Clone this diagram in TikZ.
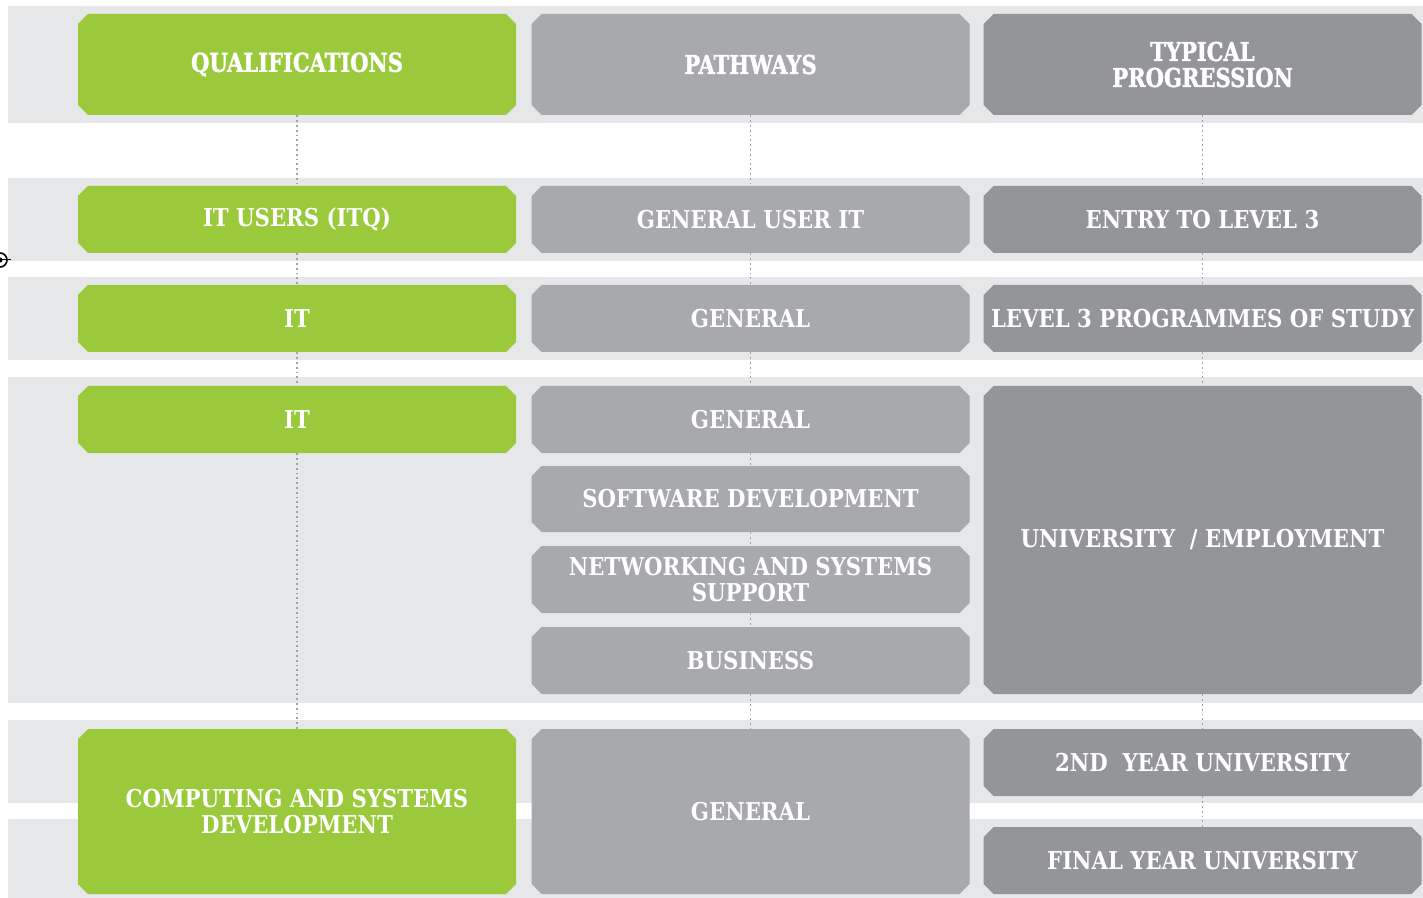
\documentclass[tikz,border=0pt]{standalone}
\usepackage{fontspec}
\usepackage{tikz}
\usetikzlibrary{shapes.misc}
\setmainfont[FakeStretch=0.96]{DejaVu Serif Condensed}
\newfontfamily\headfont[FakeBold=1.5,FakeStretch=0.9]{DejaVu Serif Condensed}
\definecolor{qgreen}{HTML}{9ACA3C}
\definecolor{pgrey}{HTML}{A7A9AC}
\definecolor{tgrey}{HTML}{939598}
\definecolor{bandgrey}{HTML}{E6E7E8}
\definecolor{dotgrey}{HTML}{A0A2A5}

\begin{document}
\begin{tikzpicture}[x=0.5pt,y=-0.5pt,
    box/.style={chamfered rectangle,chamfered rectangle xsep=2.5pt,chamfered rectangle ysep=2.5pt,
        inner sep=0pt,minimum width=219pt,minimum height=33.5pt,text=white,align=center,
        font=\fontsize{12.3}{13}\selectfont\bfseries},
    qual/.style={box,fill=qgreen},
    path/.style={box,fill=pgrey},
    prog/.style={box,fill=tgrey},
    head/.style={font=\fontsize{13}{13}\selectfont\headfont\bfseries,minimum height=50.5pt},
    band/.style={fill=bandgrey},
    dotline/.style={draw=dotgrey,line width=0.9pt,dash pattern=on 0.9pt off 1.5pt}]
            \useasboundingbox (0,0) rectangle (1423,898);
            \fill[band](8,6) rectangle (1423,123);
            \fill[band](8,178) rectangle (1423,261);
            \fill[band](8,277) rectangle (1423,360);
            \fill[band](8,377) rectangle (1423,703);
            \fill[band](8,819) rectangle (1423,898);
            \fill[band](8,720) rectangle (1423,803);
            \draw[black,line width=0.8pt](0,260) circle (3.5pt);
            \fill[black](0,260) circle (1.3pt);
            \draw[black,line width=0.5pt](-12,260) -- (11,260);

            \node[qual,head] (q0) at (297,64.5){QUALIFICATIONS};
            \node[path,head] (p0) at (750.5,64.5){PATHWAYS};
            \node[prog,head] (t0) at (1202.5,64.5){TYPICAL\\PROGRESSION};

            \node[qual] (q1) at (297,219.5){IT USERS (ITQ)};
            \node[path] (p1) at (750.5,219.5){GENERAL USER IT};
            \node[prog] (t1) at (1202.5,219.5){ENTRY TO LEVEL 3};

            \node[qual] (q2) at (297,318.5){IT};
            \node[path] (p2) at (750.5,318.5){GENERAL};
            \node[prog] (t2) at (1202.5,318.5){LEVEL 3 PROGRAMMES OF STUDY};

            \node[qual] (q3) at (297,419.5){IT};
            \node[path] (p3) at (750.5,419.5){GENERAL};
            \node[path,minimum height=33pt] (p4) at (750.5,499){SOFTWARE DEVELOPMENT};
            \node[path] (p5) at (750.5,579.5){NETWORKING AND SYSTEMS\\SUPPORT};
            \node[path] (p6) at (750.5,660.5){BUSINESS};
            \node[prog,minimum height=154pt] (t3) at (1202.5,540){UNIVERSITY\ \ / EMPLOYMENT};

            \node[qual,minimum height=82.5pt] (q4) at (297,811.5){COMPUTING AND SYSTEMS\\DEVELOPMENT};
            \node[path,minimum height=82.5pt] (p7) at (750.5,811.5){GENERAL};
            \node[prog] (t4) at (1202.5,762.5){2ND\ \ YEAR UNIVERSITY};
            \node[prog] (t5) at (1202.5,860.5){FINAL YEAR UNIVERSITY};

            \foreach \a/\b in {q0/q1,q1/q2,q2/q3,q3/q4,p0/p1,p1/p2,p2/p3,p3/p4,p4/p5,p5/p6,p6/p7,t0/t1,t1/t2,t2/t3,t3/t4,t4/t5}
                \draw[dotline](\a.south) -- (\b.north);
        \end{tikzpicture}
\end{document}
